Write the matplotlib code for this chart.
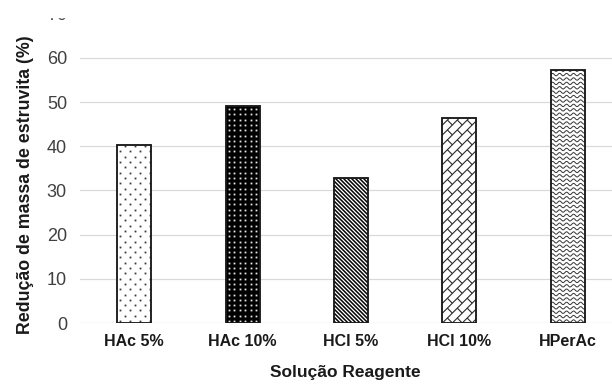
import numpy as np
import matplotlib.pyplot as plt
from matplotlib.collections import LineCollection
from matplotlib.patches import Rectangle
from matplotlib.transforms import IdentityTransform

categorias = ["HAc 5%", "HAc 10%", "HCl 5%", "HCl 10%", "HPerAc"]
reducao = [40.3, 49.1, 32.9, 46.5, 57.2]
y_ticks = [0, 10, 20, 30, 40, 50, 60, 70]

plt.rcParams["font.family"] = ["Liberation Sans", "DejaVu Sans"]

DPI = 100
W_PX, H_PX = 612, 391
fig = plt.figure(figsize=(W_PX / DPI, H_PX / DPI), dpi=DPI, facecolor="white")
ax = fig.add_axes([80 / W_PX, 68 / H_PX, 542 / W_PX, 309.2 / H_PX])

x = np.arange(len(categorias))
ax.set_xlim(-0.5, len(categorias) - 0.5)
ax.set_ylim(0, 70)

for t in y_ticks[:-1]:
    ax.axhline(t, color="#d9d9d9", lw=0.9, zorder=1)

bars = ax.bar(x, reducao, width=0.313, facecolor="white", edgecolor="none",
              linewidth=0, zorder=3)
bars[1].set_facecolor("black")


def bar_px(bar):
    """Cantos da barra em pixels do display."""
    x0, y0 = ax.transData.transform((bar.get_x(), 0))
    x1, y1 = ax.transData.transform((bar.get_x() + bar.get_width(), bar.get_height()))
    return x0, y0, x1, y1


def dots(bar, dx, dy, stagger, color, ms):
    x0, y0, x1, y1 = bar_px(bar)
    px, py = [], []
    for i, yy in enumerate(np.arange(y0 + 2, y1, dy)):
        off = (dx / 2) if (stagger and i % 2) else 0
        for xx in np.arange(x0 + 3 + off, x1, dx):
            px.append(xx)
            py.append(yy)
    ln, = ax.plot(px, py, ls="none", marker="s", ms=ms, mew=0, color=color,
                  transform=IdentityTransform(), zorder=3.5)
    ln.set_clip_path(bar)


def stripes(bar, step, color, lw):
    x0, y0, x1, y1 = bar_px(bar)
    segs = []
    for c in np.arange(x0 + y0 - 2, x1 + y1 + step, step):
        # linha x + y = c  (direcao "\")
        segs.append([(c - y1 - 2, y1 + 2), (c - y0 + 2, y0 - 2)])
    lc = LineCollection(segs, colors=color, linewidths=lw,
                        transform=IdentityTransform(), zorder=3.5)
    ax.add_collection(lc)
    lc.set_clip_path(bar)


def bricks(bar, h, w, color, lw):
    x0, y0, x1, y1 = bar_px(bar)
    W, H = x1 - x0, y1 - y0
    s = np.sqrt(2)
    eu = np.array([1, 1]) / s
    ev = np.array([-1, 1]) / s
    o = np.array([x0, y0])
    umax = (W + H) / s
    vmin, vmax = -W / s, H / s
    segs = []
    ks = np.arange(np.floor(vmin / h) - 1, np.ceil(vmax / h) + 1)
    for k in ks:
        v = k * h
        segs.append([o + (-5) * eu + v * ev, o + (umax + 5) * eu + v * ev])
        off = (w / 2) if int(k) % 2 else 0
        for u in np.arange(-w + off, umax + w, w):
            segs.append([o + u * eu + v * ev, o + u * eu + (v + h) * ev])
    lc = LineCollection(segs, colors=color, linewidths=lw,
                        transform=IdentityTransform(), zorder=3.5)
    ax.add_collection(lc)
    lc.set_clip_path(bar)


def waves(bar, dy, period, amp, color, lw):
    x0, y0, x1, y1 = bar_px(bar)
    segs = []
    xx = np.linspace(x0 - 2, x1 + 2, 80)
    for yy in np.arange(y0 + 2, y1 + dy, dy):
        segs.append(np.column_stack([xx, yy + amp * np.sin(2 * np.pi * (xx - x0) / period)]))
    lc = LineCollection(segs, colors=color, linewidths=lw,
                        transform=IdentityTransform(), zorder=3.5)
    ax.add_collection(lc)
    lc.set_clip_path(bar)


fig.canvas.draw()
dots(bars[0], 10, 5.3, True, "#3a3a3a", 1.3)
dots(bars[1], 5.5, 5.3, False, "#e6e6e6", 1.3)
stripes(bars[2], 4.0, "black", 1.1)
bricks(bars[3], 7.0, 14.0, "#2a2a2a", 0.8)
waves(bars[4], 4.4, 7.0, 1.2, "#333333", 0.7)

# contorno das barras
ax.bar(x, reducao, width=0.313, fill=False, edgecolor="#1a1a1a",
       linewidth=1.35, zorder=4)

ax.set_xticks(x)
ax.set_xticklabels(categorias, fontsize=11.5, fontweight="bold", color="#1a1a1a")
ax.set_yticks(y_ticks)
ax.tick_params(axis="y", labelsize=13, labelcolor="#404040", length=0, pad=9.4)
ax.tick_params(axis="x", length=0, pad=8)
for sp in ax.spines.values():
    sp.set_visible(False)

fig.text(26 / W_PX, 1 - 184.5 / H_PX, "Redução de massa de estruvita (%)",
         rotation=90, ha="center", va="center", fontsize=12.8, fontweight="bold",
         color="#1a1a1a")
fig.text(345 / W_PX, 1 - 373 / H_PX, "Solução Reagente", ha="center",
         va="center", fontsize=12.5, fontweight="bold", color="#1a1a1a")

# topo recortado como no original
fig.add_artist(Rectangle((0, 1 - 16.5 / H_PX), 1, 16.5 / H_PX,
                         transform=fig.transFigure, color="white", zorder=10))

fig.savefig("out.png", dpi=DPI, facecolor="white")
